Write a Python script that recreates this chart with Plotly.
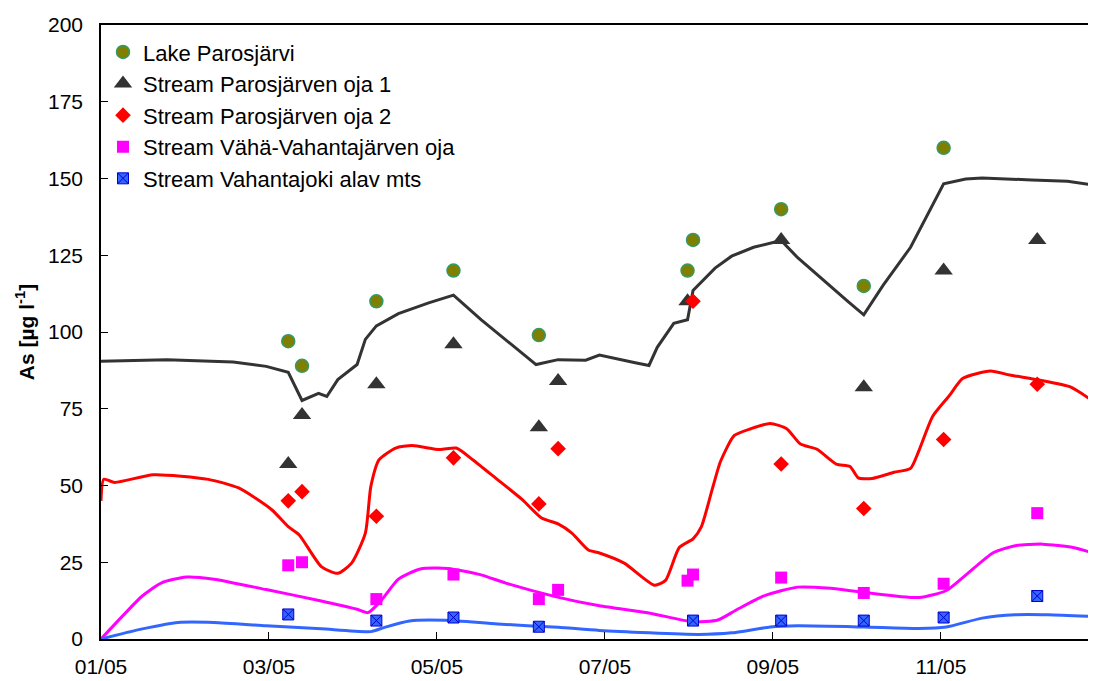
import plotly.graph_objects as go

# sampling dates (field observations)
obs_dates = ["2005-03-10", "2005-03-15", "2005-04-11", "2005-05-09", "2005-06-09", "2005-06-16",
             "2005-08-02", "2005-08-04", "2005-09-05", "2005-10-05", "2005-11-03", "2005-12-07"]
lake = [97, 89, 110, 120, 99, None, 120, 130, 140, 115, 160, None]
oja1 = [57, 73, 83, 96, 69, 84, 110, None, 130, 82, 120, 130]
oja2 = [45, 48, 40, 59, 44, 62, None, 110, 57, 42.5, 65, 83]
vaha_oja = [24, 25, 13, 21, 13, 16, 19, 21, 20, 15, 18, 41]
vahantajoki = [8, None, 6, 7, 4, None, None, 6, 6, 6, 7, 14]

# simulated curves
black_dates = ["2005-01-01", "2005-01-25", "2005-02-18", "2005-03-02", "2005-03-10", "2005-03-15",
               "2005-03-21", "2005-03-24", "2005-03-28", "2005-04-04", "2005-04-07", "2005-04-11",
               "2005-04-19", "2005-04-30", "2005-05-09", "2005-05-19", "2005-06-08", "2005-06-16",
               "2005-06-26", "2005-07-01", "2005-07-14", "2005-07-19", "2005-07-22", "2005-07-28",
               "2005-08-02", "2005-08-04", "2005-08-12", "2005-08-18", "2005-08-26", "2005-09-05",
               "2005-09-11", "2005-09-23", "2005-09-29", "2005-10-05", "2005-10-12", "2005-10-22",
               "2005-11-03", "2005-11-11", "2005-11-17", "2005-12-05", "2005-12-18", "2005-12-28"]
black_vals = [90.5, 91, 90.2, 88.8, 86.9, 77.7, 80, 79, 84.5, 89.4, 97.6, 102,
              106, 109.5, 112, 104, 89.4, 91, 90.8, 92.5, 90, 89.1, 95, 102.8,
              104, 113.5, 120.8, 124.7, 127.6, 129.8, 124.2, 114.6, 110.1, 105.6, 115.2, 127.6,
              148.3, 149.8, 150.2, 149.5, 149.1, 147.8]

red_dates = ["2005-01-01", "2005-01-02", "2005-01-06", "2005-01-20", "2005-02-09", "2005-02-20",
             "2005-03-04", "2005-03-10", "2005-03-14", "2005-03-22", "2005-03-28", "2005-04-02",
             "2005-04-07", "2005-04-09", "2005-04-12", "2005-04-18", "2005-04-24", "2005-05-04",
             "2005-05-10", "2005-05-16", "2005-05-25", "2005-06-03", "2005-06-10", "2005-06-16",
             "2005-06-21", "2005-06-27", "2005-07-01", "2005-07-10", "2005-07-21", "2005-07-25",
             "2005-07-30", "2005-08-04", "2005-08-07", "2005-08-11", "2005-08-14", "2005-08-19",
             "2005-08-25", "2005-09-01", "2005-09-07", "2005-09-12", "2005-09-18", "2005-09-25",
             "2005-09-30", "2005-10-03", "2005-10-08", "2005-10-16", "2005-10-22", "2005-10-25",
             "2005-10-30", "2005-11-05", "2005-11-10", "2005-11-20", "2005-11-27", "2005-12-08",
             "2005-12-19", "2005-12-28"]
red_vals = [45, 52, 51, 53.5, 52, 49.2,
            42.1, 36.6, 33.9, 23.6, 21.4, 24.7,
            34.5, 49.7, 58.4, 62.2, 63, 61.7,
            62.2, 58.4, 51.9, 45.4, 39.4, 37.5,
            34.5, 29, 28, 24.7, 17.5, 19.1,
            29.8, 32.6, 36.5, 48.9, 57.9, 66.3,
            68.5, 70.2, 68.5, 63.5, 61.8, 57,
            56.2, 52.5, 52.3, 54.3, 55.6, 61.3,
            72.5, 79.2, 84.9, 87.3, 86, 84.3,
            82.1, 77]

mag_dates = ["2005-01-01", "2005-01-10", "2005-01-16", "2005-01-23", "2005-02-01", "2005-02-11",
             "2005-03-02", "2005-03-22", "2005-04-04", "2005-04-08", "2005-04-13", "2005-04-19",
             "2005-04-27", "2005-05-07", "2005-05-19", "2005-05-28", "2005-06-15", "2005-07-01",
             "2005-07-19", "2005-08-04", "2005-08-13", "2005-08-20", "2005-08-30", "2005-09-11",
             "2005-09-23", "2005-10-05", "2005-10-25", "2005-11-04", "2005-11-11", "2005-11-21",
             "2005-11-29", "2005-12-09", "2005-12-20", "2005-12-28"]
mag_vals = [0, 8.6, 14, 18.3, 20.2, 19.5,
            16.1, 12.4, 9.7, 8.6, 12.8, 19.5,
            22.8, 23, 20.9, 18.2, 13.8, 10.8,
            8.5, 5.6, 6.2, 9.6, 14.1, 16.9,
            16.5, 15.2, 13.5, 15.8, 20.8, 28.1,
            30.4, 30.9, 29.8, 27.8]

blue_dates = ["2005-01-01", "2005-01-16", "2005-01-29", "2005-02-11", "2005-03-02", "2005-03-22",
              "2005-04-09", "2005-04-14", "2005-04-23", "2005-05-06", "2005-05-25", "2005-06-16",
              "2005-07-01", "2005-08-06", "2005-08-18", "2005-09-01", "2005-09-11", "2005-10-05",
              "2005-10-25", "2005-11-04", "2005-11-17", "2005-11-29", "2005-12-11", "2005-12-28"]
blue_vals = [0, 3.3, 5.4, 5.4, 4.3, 3.3,
             2.4, 3.8, 5.9, 6.1, 4.9, 3.8,
             2.8, 1.5, 2, 3.9, 4.3, 3.9,
             3.4, 3.9, 6.8, 7.9, 7.9, 7.3]

FONT = "Arial, 'Liberation Sans', sans-serif"
DAY_MS = 86400000

fig = go.Figure()
for d, v, col, shape in [(black_dates, black_vals, "#333333", "linear"),
                         (red_dates, red_vals, "#FF0000", "spline"),
                         (mag_dates, mag_vals, "#FF00FF", "spline"),
                         (blue_dates, blue_vals, "#3366FF", "spline")]:
    fig.add_trace(go.Scatter(x=d, y=v, mode="lines", showlegend=False, hoverinfo="skip",
                             line=dict(color=col, width=3, shape=shape, smoothing=0.6)))

points = [
    ("Lake Parosjärvi", lake, dict(symbol="circle", size=13, color="#808000", line=dict(color="#339966", width=1.5))),
    ("Stream Parosjärven oja 1", oja1, dict(symbol="triangle-up", size=16, color="#333333")),
    ("Stream Parosjärven oja 2", oja2, dict(symbol="diamond", size=12, color="#FF0000")),
    ("Stream Vähä-Vahantajärven oja", vaha_oja, dict(symbol="square", size=12, color="#FF00FF")),
    ("Stream Vahantajoki alav mts", vahantajoki, dict(symbol="square-x", size=11, color="#3366FF",
                                                      line=dict(color="#0000CC", width=1))),
]
for name, vals, mk in points:
    fig.add_trace(go.Scatter(x=obs_dates, y=vals, mode="markers", name=name, marker=mk))

# page body has an 8px margin: the figure is sized and offset to compensate
fig.update_layout(
    width=1088, height=673,
    margin=dict(l=93, r=0, t=17, b=42),
    paper_bgcolor="white", plot_bgcolor="white",
    font=dict(family=FONT, size=21, color="black"),
    legend=dict(x=0.002, y=0.99, xanchor="left", yanchor="top", bgcolor="rgba(0,0,0,0)",
                font=dict(size=22)),
    xaxis=dict(type="date", range=["2005-01-01", "2005-12-28 08:00"], tickformat="%m/%y",
               tickmode="linear", tick0="2005-01-01", dtick=61 * DAY_MS,
               ticks="inside", ticklen=7, tickcolor="black",
               showline=True, linecolor="black", linewidth=1.5, mirror=True,
               showgrid=False, zeroline=False, ticklabelstandoff=8, automargin=False),
    yaxis=dict(range=[0, 200], tick0=0, dtick=25, ticks="inside", ticklen=7, tickcolor="black",
               showline=True, linecolor="black", linewidth=1.5, showgrid=False, zeroline=False,
               ticklabelstandoff=12, automargin=False,
               title=dict(text="<b>As [µg l<sup>-1</sup>]</b>", standoff=8, font=dict(size=21))),
)

fig.write_html("out.html")
